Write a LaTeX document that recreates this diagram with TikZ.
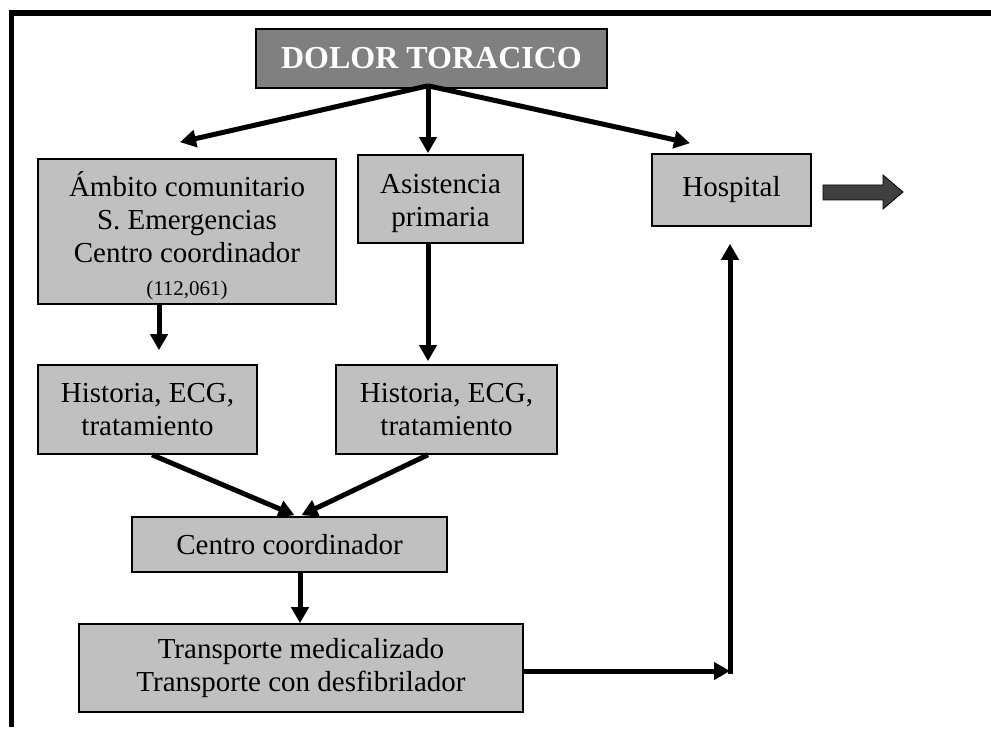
\documentclass[tikz,border=0pt]{standalone}
\usepackage{fontspec}
\setmainfont{Liberation Serif}
\usetikzlibrary{arrows.meta}
\definecolor{boxgray}{HTML}{C0C0C0}
\definecolor{headgray}{HTML}{808080}
\definecolor{fatgray}{HTML}{404040}
\begin{document}
\begin{tikzpicture}[x=1pt,y=-1pt,
  box/.style={draw=black,line width=1.6pt,fill=boxgray,rectangle,align=center,inner sep=0pt,
    font=\fontsize{29}{33}\selectfont},
  arr/.style={line width=5pt,-{Triangle[length=16pt,width=17pt]}},
]
\useasboundingbox (0,0) rectangle (991,735);
% frame
\draw[line width=5.5pt] (11.5,727) -- (11.5,13) -- (991,13);
% nodes
\node[box,fill=headgray,minimum width=351pt,minimum height=59pt,text=white,
  font=\fontsize{32}{36}\bfseries] (dolor) at (431.5,58.5) {DOLOR TORACICO};
\node[box,minimum width=298pt,minimum height=145pt] (ambito) at (187,231.5)
  {\rule{0pt}{34pt}Ámbito comunitario\\S. Emergencias\\Centro coordinador\\[0pt]{\fontsize{21}{24}\selectfont (112,061)}};
\node[box,minimum width=165pt,minimum height=88pt] (asist) at (440.5,199) {\rule{0pt}{28pt}Asistencia\\primaria};
\node[box,minimum width=159pt,minimum height=72pt] (hosp) at (731.5,190) {Hospital};
\node[box,minimum width=219pt,minimum height=89pt] (hist1) at (147.5,409.5) {Historia, ECG,\\tratamiento};
\node[box,minimum width=221pt,minimum height=89pt] (hist2) at (446.5,409.5) {Historia, ECG,\\tratamiento};
\node[box,minimum width=315pt,minimum height=55pt] (centro) at (289.5,544.5) {Centro coordinador};
\node[box,minimum width=444pt,minimum height=88pt] (transp) at (301,668)
  {Transporte medicalizado\\Transporte con desfibrilador};
\coordinate (corner) at (730,671);
% connectors
\draw[arr] ([xshift=-3.5pt,yshift=3pt]dolor.south) -- ([xshift=-7pt,yshift=16pt]ambito.north);
\draw[arr] ([xshift=-3.5pt,yshift=3pt]dolor.south) -- ([xshift=-12.5pt,yshift=1pt]asist.north);
\draw[arr] ([xshift=-3.5pt,yshift=3pt]dolor.south) -- ([xshift=-41.5pt,yshift=10pt]hosp.north);
\draw[arr] ([xshift=-28pt]ambito.south) -- ([xshift=11.5pt,yshift=14pt]hist1.north);
\draw[arr] ([xshift=-12.5pt]asist.south) -- ([xshift=-18.5pt,yshift=3pt]hist2.north);
\draw[arr] ([xshift=4.5pt]hist1.south) -- ([xshift=5pt,yshift=1pt]centro.north);
\draw[arr] ([xshift=-18.5pt]hist2.south) -- ([xshift=12pt,yshift=1pt]centro.north);
\draw[arr] ([xshift=10.5pt]centro.south) -- ([xshift=-1pt]transp.north);
\draw[arr] ([yshift=-3pt]transp.east) -- (corner);
\draw[arr] ([yshift=-2.5pt]corner) -- ([xshift=-1.5pt,yshift=-17pt]hosp.south);
% fat arrow
\draw[fill=fatgray,line width=0.8pt] (823,185) -- (883,185) -- (883,175) -- (903,192)
  -- (883,209) -- (883,200) -- (823,200) -- cycle;
\end{tikzpicture}
\end{document}
